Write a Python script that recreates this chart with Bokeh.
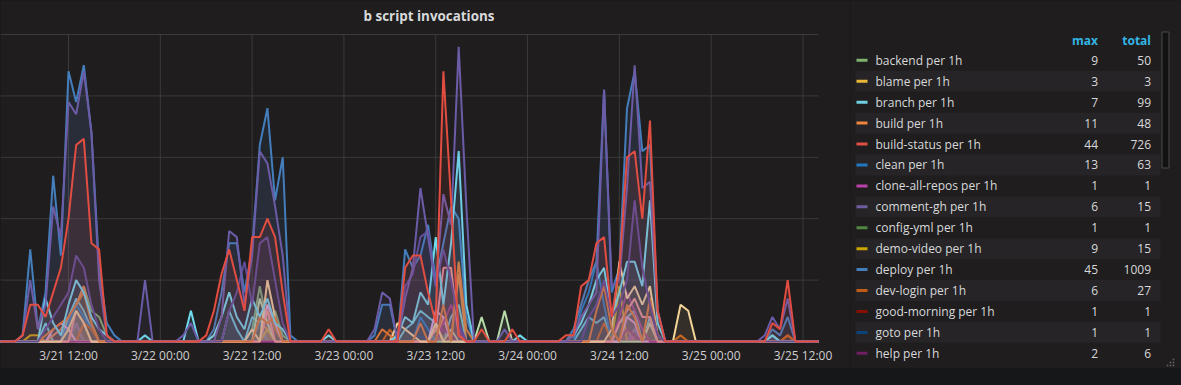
from bokeh.plotting import figure
from bokeh.models import Range1d, ColumnDataSource, GlobalInlineStyleSheet
from bokeh.layouts import row
from bokeh.core.properties import value
from bokeh.embed import file_html
from bokeh.resources import INLINE

# ---------------- data ----------------
TITLE = "b script invocations"
HOURS = list(range(3, 111))          # hourly samples, hours since 3/21 00:00
TICKS = [12, 24, 36, 48, 60, 72, 84, 96, 108]
TICK_LABELS = ["3/21 12:00", "3/22 00:00", "3/22 12:00", "3/23 00:00", "3/23 12:00",
               "3/24 00:00", "3/24 12:00", "3/25 00:00", "3/25 12:00"]
Y_GRID = [10, 20, 30, 40, 50]

# hourly counts per series (hours not listed read as 0 on the chart)
BACKEND = {12: 3, 13: 6, 14: 9, 15: 5, 16: 4, 17: 1, 36: 2, 37: 9, 38: 3, 39: 5, 40: 1, 86: 2}
BLAME = {13: 3}
BRANCH = {9: 3, 12: 4, 13: 7, 14: 5, 15: 2, 33: 5, 34: 2, 36: 4, 37: 3, 38: 5, 39: 2,
          56: 2, 57: 3, 58: 5, 59: 4, 60: 3, 62: 4, 63: 6, 79: 2, 80: 4, 81: 3, 82: 4,
          84: 3, 85: 4, 86: 5, 88: 4, 104: 1}
BUILD = {10: 1, 11: 2, 12: 4, 13: 6, 14: 9, 15: 3, 37: 3, 38: 2, 61: 4, 63: 11, 85: 2, 106: 1}
BUILD_STATUS = {6: 1, 7: 6, 8: 6, 9: 4, 10: 8, 11: 12, 12: 20, 13: 32, 14: 33, 15: 16, 16: 15, 17: 1,
                30: 1, 31: 5, 32: 11, 33: 15, 34: 10, 35: 5, 36: 17, 37: 17, 38: 20, 39: 17, 40: 8,
                46: 2, 56: 12, 57: 14, 58: 14, 59: 8, 60: 3, 61: 44, 62: 23, 63: 1,
                66: 2, 70: 2, 77: 1, 78: 1, 79: 9, 80: 10, 81: 16, 82: 17, 83: 4, 84: 12,
                85: 30, 86: 31, 87: 20, 88: 36, 89: 5, 104: 3, 105: 2, 106: 10}
CLEAN = {12: 3, 13: 6, 14: 4, 15: 2, 37: 3, 58: 4, 59: 2, 79: 5, 80: 8, 81: 13, 82: 6, 85: 4, 86: 3}
CLONE_ALL_REPOS = {86: 1}
COMMENT_GH = {13: 3, 38: 6, 61: 2, 62: 1, 86: 2, 104: 1}
CONFIG_YML = {61: 1}
DEMO_VIDEO = {7: 1, 8: 1, 38: 2, 60: 2, 84: 9}
DEPLOY = {6: 1, 7: 15, 8: 2, 9: 8, 10: 27, 11: 14, 12: 44, 13: 39, 14: 45, 15: 34, 16: 12, 17: 3, 18: 1,
          31: 2, 32: 8, 33: 16, 34: 16, 35: 8, 36: 15, 37: 32, 38: 38, 39: 23, 40: 30, 41: 1,
          52: 1, 53: 6, 54: 6, 56: 15, 57: 12, 58: 14, 59: 19, 60: 10, 61: 16, 62: 22, 63: 20, 64: 4,
          78: 2, 79: 6, 80: 10, 81: 13, 82: 41, 83: 8, 84: 12, 85: 38, 86: 44, 87: 31, 88: 32, 89: 5,
          104: 2, 105: 1, 106: 4}
DEV_LOGIN = {14: 3, 15: 2, 37: 4, 38: 6, 39: 2, 54: 2, 82: 3, 88: 3, 92: 1, 106: 1}
GOOD_MORNING = {62: 1}
GOTO = {58: 1}
HELP = {61: 2, 62: 1, 85: 2, 86: 1}
# series further down the (scrolled) legend
OTHER_A = {6: 1, 7: 10, 8: 2, 9: 6, 10: 22, 11: 17, 12: 39, 13: 37, 14: 44, 15: 34, 16: 10, 17: 1,
           22: 10, 27: 1, 28: 3, 32: 4, 33: 18, 34: 17, 35: 6, 36: 14, 37: 31, 38: 29, 39: 22, 40: 14,
           52: 2, 53: 8, 54: 7, 56: 7, 57: 12, 58: 25, 59: 17, 60: 9, 61: 24, 62: 19, 63: 48, 64: 22,
           69: 2, 78: 1, 79: 4, 80: 6, 81: 8, 82: 41, 83: 9, 84: 10, 85: 25, 86: 45, 87: 25, 88: 26,
           89: 5, 103: 1, 104: 4, 105: 2, 106: 7}
OTHER_B = {9: 2, 10: 4, 11: 6, 12: 8, 13: 14, 14: 12, 15: 6, 16: 2, 33: 5, 34: 8, 35: 13, 36: 6,
           37: 16, 38: 17, 39: 10, 40: 3, 56: 9, 57: 11, 58: 17, 59: 18, 60: 9, 61: 15, 62: 10, 63: 3,
           80: 4, 81: 6, 82: 10, 83: 4, 84: 6, 85: 10, 86: 23, 87: 12, 88: 6, 89: 1}
OTHER_C = {9: 7, 10: 3, 11: 1, 12: 6, 13: 10, 14: 8, 15: 4, 16: 2, 17: 1, 22: 1, 28: 5,
           31: 1, 32: 4, 33: 8, 34: 4, 35: 2, 36: 7, 37: 4, 38: 7, 39: 3, 40: 2, 46: 1,
           55: 1, 56: 4, 57: 3, 58: 8, 59: 6, 60: 17, 61: 6, 62: 16, 63: 31, 64: 6, 71: 1,
           78: 1, 79: 3, 80: 6, 81: 10, 82: 12, 83: 4, 84: 8, 85: 13, 86: 13, 87: 9, 88: 23, 89: 3, 104: 1}
OTHER_D = {9: 1, 10: 2, 11: 3, 12: 4, 13: 6, 14: 8, 15: 3, 37: 4, 38: 3, 39: 4, 53: 2, 54: 1, 58: 3,
           61: 6, 63: 13, 64: 2, 81: 5, 82: 9, 83: 2, 85: 6, 86: 4, 88: 7, 89: 1}
OTHER_E = {12: 2, 13: 5, 14: 3, 36: 2, 38: 10, 39: 4, 55: 3, 56: 2, 57: 1, 60: 3,
           83: 2, 84: 13, 85: 7, 86: 9, 87: 6, 88: 9, 89: 1, 92: 6, 93: 5}
OTHER_F = {13: 5, 14: 3, 38: 5, 60: 2, 61: 12, 62: 12, 63: 1, 84: 3, 85: 5, 86: 7, 87: 4, 88: 4}
OTHER_G = {61: 3, 62: 6, 63: 2, 84: 4, 85: 8, 86: 5, 87: 2}
OTHER_H = {37: 7, 38: 3, 62: 2, 66: 4, 69: 5, 88: 3}
OTHER_I = {10: 2, 11: 3, 12: 2, 38: 6, 39: 3, 60: 5, 61: 4, 85: 4, 86: 3}

LEGEND_NAMES = ["backend per 1h", "blame per 1h", "branch per 1h", "build per 1h",
                "build-status per 1h", "clean per 1h", "clone-all-repos per 1h",
                "comment-gh per 1h", "config-yml per 1h", "demo-video per 1h",
                "deploy per 1h", "dev-login per 1h", "good-morning per 1h",
                "goto per 1h", "help per 1h"]
LEGEND_MAX = [9, 3, 7, 11, 44, 13, 1, 6, 1, 9, 45, 6, 1, 1, 2]
LEGEND_TOTAL = [50, 3, 99, 48, 726, 63, 1, 15, 1, 15, 1009, 27, 1, 1, 6]
LEGEND_COLORS = ["#7EB26D", "#EAB839", "#6ED0E0", "#EF843C", "#E24D42", "#1F78C1", "#BA43A9",
                 "#705DA0", "#508642", "#CCA300", "#447EBC", "#C15C17", "#890F02", "#0A437C",
                 "#6D1F62"]
LEGEND_SERIES = [BACKEND, BLAME, BRANCH, BUILD, BUILD_STATUS, CLEAN, CLONE_ALL_REPOS, COMMENT_GH,
                 CONFIG_YML, DEMO_VIDEO, DEPLOY, DEV_LOGIN, GOOD_MORNING, GOTO, HELP]
OTHER_SERIES = [OTHER_H, OTHER_I, OTHER_G, OTHER_F, OTHER_E, OTHER_D, OTHER_C, OTHER_B, OTHER_A]
OTHER_COLORS = ["#B7DBAB", "#E5A8E2", "#962D82", "#F29191", "#F4D598", "#E0752D", "#70DBED",
                "#5E4C96", "#6C5BA6"]

# ---------------- style / geometry ----------------
PANEL = "#1f1d1e"
BODY = "#161719"
GRID = "#3b3b3b"
TEXT = "#d8d9da"
FONT = "Open Sans"

W_TOTAL, H = 1181, 368
CHART_W = 850            # chart figure width (px); legend takes the rest
PLOT_RIGHT = 818         # px where the series end
BASE_Y = 341             # px of value 0
PX_H = 7.651             # px per hour
PX_V = 6.14              # px per count
X_AT_12 = 68             # px of 3/21 12:00

X0 = 12 - X_AT_12 / PX_H
X1 = X0 + CHART_W / PX_H
X_END = X0 + PLOT_RIGHT / PX_H
Y0 = -(H - BASE_Y) / PX_V
Y1 = BASE_Y / PX_V


def series(d):
    return [d.get(h, 0) for h in HOURS]


def vy(py):
    """pixel row -> value units"""
    return (BASE_Y - py) / PX_V


p = figure(width=CHART_W, height=H, x_range=Range1d(X0, X1), y_range=Range1d(Y0, Y1),
           output_backend="svg", toolbar_location=None, x_axis_location=None,
           y_axis_location=None, min_border=0)
p.background_fill_color = PANEL
p.border_fill_color = PANEL
p.outline_line_color = None
p.grid.visible = False

# grid lines
p.segment(x0=[X0] * len(Y_GRID), x1=[X_END] * len(Y_GRID), y0=Y_GRID, y1=Y_GRID,
          line_color=GRID, line_width=1)
p.segment(x0=TICKS, x1=TICKS, y0=[0] * len(TICKS), y1=[Y_GRID[-1]] * len(TICKS),
          line_color=GRID, line_width=1)

# series
draw = [(s, c) for s, c in zip(LEGEND_SERIES, LEGEND_COLORS) if s is not BUILD_STATUS]
draw += list(zip(OTHER_SERIES, OTHER_COLORS))
draw += [(BUILD_STATUS, "#E24D42")]
for d, c in draw:
    src = ColumnDataSource(dict(x=HOURS, y=series(d)))
    p.varea(x="x", y1=0, y2="y", source=src, fill_color=c, fill_alpha=0.1)
    p.line(x="x", y="y", source=src, line_color=c, line_width=2)

# time-axis labels
p.text(x=TICKS, y=[vy(355)] * len(TICKS), text=TICK_LABELS, text_font=value(FONT),
       text_font_size="12px", text_color="#cfcfcf", text_align="center", text_baseline="middle")

# title
p.text(x=[X0 + 428.5 / PX_H], y=[vy(15)], text=[TITLE],
       text_font=value(FONT), text_font_style="bold", text_font_size="13.4px",
       text_color=TEXT, text_align="center", text_baseline="middle")

# ---------------- legend panel ----------------
LW = W_TOTAL - CHART_W
q = figure(width=LW, height=H, x_range=Range1d(0, LW), y_range=Range1d(H, 0),
           output_backend="svg", toolbar_location=None, x_axis_location=None,
           y_axis_location=None, min_border=0)
q.background_fill_color = PANEL
q.border_fill_color = PANEL
q.outline_line_color = None
q.grid.visible = False

n = len(LEGEND_NAMES)
ys = [59.8 + 20.93 * i for i in range(n)]
band = [i for i in range(n) if i % 2 == 1]
q.quad(left=5, right=310, top=[ys[i] - 10.45 for i in band], bottom=[ys[i] + 10.45 for i in band],
       fill_color="#262426", line_color=None)
q.segment(x0=6, x1=17, y0=ys, y1=ys, line_color=LEGEND_COLORS, line_width=3)
q.text(x=25, y=ys, text=LEGEND_NAMES, text_font=value(FONT), text_font_size="12px",
       text_color=TEXT, text_baseline="middle")
q.text(x=247.5, y=ys, text=[str(v) for v in LEGEND_MAX], text_font=value(FONT),
       text_font_size="12px", text_color=TEXT, text_baseline="middle", text_align="right")
q.text(x=300.5, y=ys, text=[str(v) for v in LEGEND_TOTAL], text_font=value(FONT),
       text_font_size="12px", text_color=TEXT, text_baseline="middle", text_align="right")
q.text(x=[247.5, 300.5], y=[40, 40], text=["max", "total"], text_font=value(FONT),
       text_font_style="bold", text_font_size="12px", text_color="#33b5e5",
       text_baseline="middle", text_align="right")
# scrollbar
q.quad(left=[311.5], right=[318.5], top=[31.5], bottom=[167.5], fill_color="#121212",
       line_color="#4a4a4a", line_width=1)
# resize grip
q.rect(x=[323, 320, 323, 317, 320, 323], y=[359, 362, 362, 365, 365, 365], width=1.6, height=1.6,
       fill_color="#666666", line_color=None)

layout = row(p, q, spacing=0,
             stylesheets=[GlobalInlineStyleSheet(css=f"html,body{{margin:0;padding:0;background:{BODY};}}")])

open("out.html", "w").write(file_html(layout, INLINE))
